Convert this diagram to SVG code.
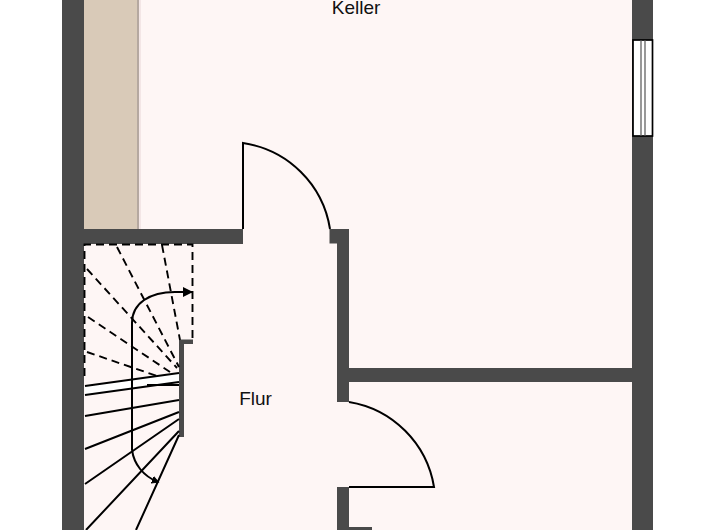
<svg xmlns="http://www.w3.org/2000/svg" width="720" height="530" viewBox="0 0 720 530">
<style>
.wall{fill:#4a4a4a}
.ln{fill:none;stroke:#000;stroke-width:2}
.ds{fill:none;stroke:#000;stroke-width:1.9;stroke-dasharray:8 5}
.tx{font-family:"Liberation Sans",Arial,sans-serif;font-size:19px;fill:#111;text-anchor:middle}
</style>
<defs><marker id="ah" markerUnits="userSpaceOnUse" markerWidth="11" markerHeight="11" refX="10" refY="5" orient="auto"><path d="M0 0L10 5L0 10Z" fill="#000"/></marker>
<marker id="ah2" markerUnits="userSpaceOnUse" markerWidth="8" markerHeight="8" refX="6" refY="4" orient="auto"><path d="M0 0.500L6.500 4L0 7.500Z" fill="#000" stroke="#000" stroke-width="1"/></marker></defs>
<rect width="720" height="530" fill="#fff"/>
<rect x="84" y="0" width="548" height="530" fill="#fef6f5"/>
<rect x="84" y="0" width="53" height="229" fill="#d9cab8"/>
<rect x="137" y="0" width="2" height="229" fill="#b5a8a0"/>
<rect x="139" y="0" width="2" height="229" fill="#f3e6e6"/>
<g id="walls">
<rect class="wall" x="62" y="0" width="22" height="530"/>
<rect class="wall" x="632" y="0" width="21" height="530"/>
<rect class="wall" x="84" y="229" width="159" height="15"/>
<path class="wall" d="M329.500 229H349V402H337V243.500H329.500Z"/>
<rect class="wall" x="349" y="368" width="283" height="14"/>
<rect class="wall" x="337" y="487" width="12" height="43"/>
<rect class="wall" x="349" y="527" width="23" height="3"/>
<path class="wall" d="M179 339.500H193V344H184V437H179Z"/>
</g>
<g id="window">
<rect x="633" y="40" width="19.500" height="96" fill="#fff" stroke="#000" stroke-width="1.700"/>
<path d="M641 40V136M645 40V136" stroke="#555" stroke-width="1.200" fill="none"/>
</g>
<g id="doors">
<path class="ln" d="M243 229V143A103 103 0 0 1 330 229"/>
<path class="ln" d="M349 402A103 103 0 0 1 434 487H349"/>
</g>
<g id="stairs">
<path d="M85 386L179 373V382L85 395Z" fill="#fff"/>
<path class="ds" d="M84.500 376V244.500H192.500V340"/>
<path class="ds" d="M117 247L179 367M162 245L180 340M87 269L177 368M88 317L170 372M87 352L157 376"/>
<path class="ln" d="M85 386L179 373M85 395L179 382M147 385L179 385M85 416L179 400M85 449L179 412M85 484L179 419M86 530L179 431M136 530L179 435"/>
<path class="ln" d="M132 450V323C132 303 150 292 175 292H193" marker-end="url(#ah)"/>
<path class="ln" d="M132 450C134 464 143 476 158 482" marker-end="url(#ah2)"/>
</g>
<text class="tx" x="356" y="14">Keller</text>
<text class="tx" x="255.500" y="405">Flur</text>
</svg>
